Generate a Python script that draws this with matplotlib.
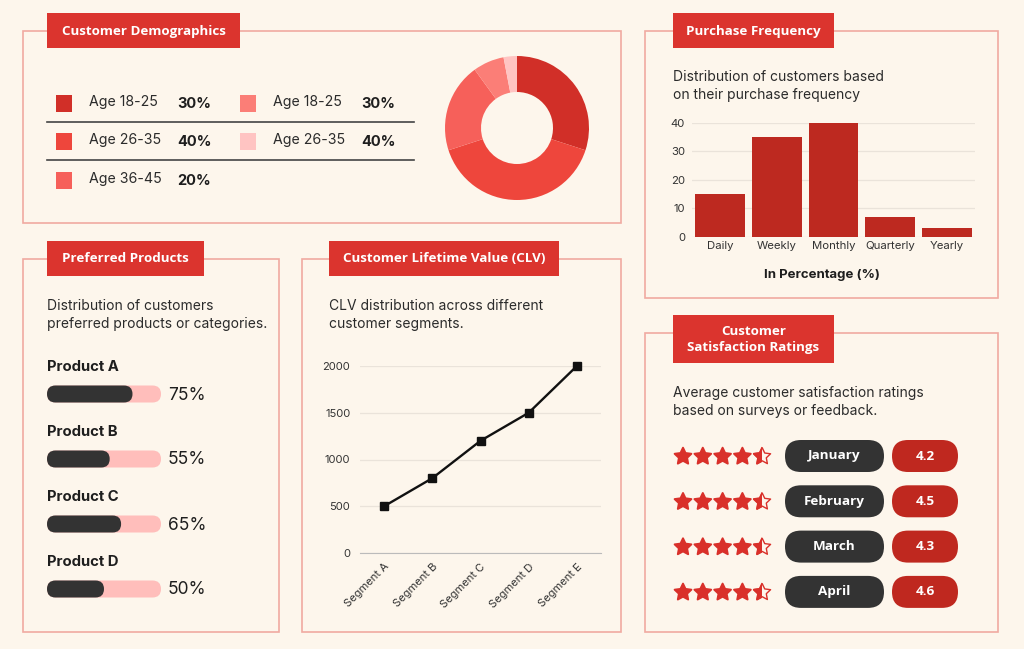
import numpy as np
import matplotlib
matplotlib.use('Agg')
import matplotlib.pyplot as plt
from matplotlib.patches import Rectangle, FancyBboxPatch, Polygon

# ---------------- data ----------------
age_labels = ['Age 18-25', 'Age 26-35', 'Age 36-45', 'Age 18-25', 'Age 26-35']
age_legend_pct = [30, 40, 20, 30, 40]
donut_values = [30, 40, 20, 7, 3]

freq_labels = ['Daily', 'Weekly', 'Monthly', 'Quarterly', 'Yearly']
freq_values = [15, 35, 40, 7, 3]
freq_ticks = [0, 10, 20, 30, 40]

products = ['Product A', 'Product B', 'Product C', 'Product D']
product_pct = [75, 55, 65, 50]

segments = ['Segment A', 'Segment B', 'Segment C', 'Segment D', 'Segment E']
clv_values = [500, 800, 1200, 1500, 2000]
clv_ticks = [0, 500, 1000, 1500, 2000]

months = ['January', 'February', 'March', 'April']
ratings = [4.2, 4.5, 4.3, 4.6]

# ---------------- style ----------------
BG = '#FDF6EC'
BORDER = '#F0AAA1'
HEAD = '#DB342E'
DARK = '#2B2B2B'
BARRED = '#BD2920'
PILLDARK = '#333333'
PILLRED = '#BF281F'
STAR = '#D9302A'
PINK = '#FFBEBB'
GRID = '#EAE3DA'
age_colors = ['#D12F28', '#EE463C', '#F6605A', '#FB7E77', '#FFC4C2']
HFONT = ['Open Sans', 'DejaVu Sans']
BFONT = ['Inter', 'DejaVu Sans']
SUB = 10.0

W, H = 1024, 649
fig = plt.figure(figsize=(W / 100, H / 100), dpi=100)
fig.patch.set_facecolor(BG)
bg = fig.add_axes([0, 0, 1, 1])
bg.set_xlim(0, W)
bg.set_ylim(H, 0)
bg.axis('off')


def px_axes(x0, y0, x1, y1):
    ax = fig.add_axes([x0 / W, 1 - y1 / H, (x1 - x0) / W, (y1 - y0) / H])
    ax.set_facecolor('none')
    return ax


def panel(box, head, title):
    x0, y0, x1, y1 = box
    bg.add_patch(Rectangle((x0, y0), x1 - x0, y1 - y0, fill=False, ec=BORDER, lw=1.2, zorder=1))
    hx0, hy0, hx1, hy1 = head
    bg.add_patch(Rectangle((hx0, hy0), hx1 - hx0, hy1 - hy0, fc=HEAD, ec='none', zorder=3))
    bg.text((hx0 + hx1) / 2, (hy0 + hy1) / 2 + 0.5, title, ha='center', va='center', color='white',
            fontsize=9.6, fontweight='bold', family=HFONT, zorder=4, linespacing=1.25)


def pill(x, yc, w, h, color, z=3):
    bg.add_patch(FancyBboxPatch((x, yc - h / 2), w, h,
                                boxstyle=f"round,pad=0,rounding_size={h / 2}",
                                fc=color, ec='none', zorder=z))


def star_pts(cx, cy, R, r):
    pts = []
    for k in range(10):
        a = -np.pi / 2 + k * np.pi / 5
        rad = R if k % 2 == 0 else r
        pts.append((cx + rad * np.cos(a), cy + rad * np.sin(a)))
    return pts


# ---------------- panels ----------------
panel((23, 31, 621, 223), (47, 13, 240, 48), 'Customer Demographics')
panel((645, 31, 998, 298), (673, 13, 834, 48), 'Purchase Frequency')
panel((23, 259, 279, 632), (47, 241, 204, 276), 'Preferred Products')
panel((302, 259, 621, 632), (329, 241, 559, 276), 'Customer Lifetime Value (CLV)')
panel((645, 333, 998, 632), (673, 315, 834, 363), 'Customer\nSatisfaction Ratings')

# ---------------- demographics ----------------
row_y = [103, 141, 180]
col_x = [56, 240]
for i, (lab, pct) in enumerate(zip(age_labels, age_legend_pct)):
    col = 0 if i < 3 else 1
    row = i if i < 3 else i - 3
    x = col_x[col]
    y = row_y[row]
    bg.add_patch(Rectangle((x, y - 8), 16, 17, fc=age_colors[i], ec='none', zorder=2))
    bg.text(x + 33, y - 1, lab, ha='left', va='center', fontsize=10.2, color=DARK, family=BFONT)
    bg.text(x + 121, y + 1, f'{pct}%', ha='left', va='center', fontsize=10.5,
            fontweight='bold', color='#1E1E1E', family=BFONT)
for ly in [122, 160]:
    bg.plot([47, 414], [ly, ly], color='#444444', lw=1.2)

ax_d = px_axes(445, 56, 589, 200)
ax_d.pie(donut_values, colors=age_colors, startangle=90, counterclock=False,
         wedgeprops=dict(width=0.5, edgecolor='none'))
ax_d.set_xlim(-1, 1)
ax_d.set_ylim(-1, 1)
ax_d.set_aspect('equal')
ax_d.axis('off')

# ---------------- purchase frequency ----------------
bg.text(673, 77, 'Distribution of customers based', ha='left', va='center', fontsize=SUB,
        color=DARK, family=BFONT)
bg.text(673, 95, 'on their purchase frequency', ha='left', va='center', fontsize=SUB,
        color=DARK, family=BFONT)
ax_b = px_axes(692, 123, 975, 237)
ax_b.bar(range(len(freq_values)), freq_values, width=0.88, color=BARRED, zorder=3)
ax_b.set_xlim(-0.5, len(freq_values) - 0.5)
ax_b.set_ylim(0, 40)
ax_b.set_yticks(freq_ticks)
ax_b.set_xticks(range(len(freq_labels)))
ax_b.set_xticklabels(freq_labels)
ax_b.grid(axis='y', color=GRID, lw=0.9, zorder=0)
for s in ax_b.spines.values():
    s.set_visible(False)
ax_b.tick_params(length=0, labelsize=8.2, colors='#333333')
ax_b.tick_params(axis='y', pad=5)
ax_b.tick_params(axis='x', pad=3)
for t in ax_b.get_xticklabels() + ax_b.get_yticklabels():
    t.set_family(BFONT)
bg.text(822, 275, 'In Percentage (%)', ha='center', va='center', fontsize=9.5,
        fontweight='bold', color='#1E1E1E', family=BFONT)

# ---------------- preferred products ----------------
bg.text(47, 306, 'Distribution of customers', ha='left', va='center', fontsize=SUB,
        color=DARK, family=BFONT)
bg.text(47, 324, 'preferred products or categories.', ha='left', va='center', fontsize=SUB,
        color=DARK, family=BFONT)
bar_x0, bar_w, bar_h = 47, 114, 17
for i, (p, v) in enumerate(zip(products, product_pct)):
    ly = 367 + 65 * i
    by = ly + 27
    bg.text(47, ly, p, ha='left', va='center', fontsize=10.7, fontweight='bold',
            color='#1E1E1E', family=BFONT)
    pill(bar_x0, by, bar_w, bar_h, PINK, z=2)
    pill(bar_x0, by, bar_w * v / 100, bar_h, PILLDARK, z=3)
    bg.text(168, by + 1, f'{v}%', ha='left', va='center', fontsize=12.5, color='#1E1E1E',
            family=BFONT)

# ---------------- CLV ----------------
bg.text(329, 306, 'CLV distribution across different', ha='left', va='center', fontsize=SUB,
        color=DARK, family=BFONT)
bg.text(329, 324, 'customer segments.', ha='left', va='center', fontsize=SUB,
        color=DARK, family=BFONT)
ax_l = px_axes(360, 366, 601, 553)
ax_l.plot(range(len(clv_values)), clv_values, color='#111111', lw=1.7, marker='s', ms=6,
          clip_on=False, zorder=3)
ax_l.set_xlim(-0.5, len(clv_values) - 0.5)
ax_l.set_ylim(0, 2000)
ax_l.set_yticks(clv_ticks)
ax_l.set_xticks(range(len(segments)))
ax_l.set_xticklabels(segments, rotation=45, ha='right', va='top', rotation_mode='anchor')
ax_l.grid(axis='y', color=GRID, lw=0.9, zorder=0)
for k, s in ax_l.spines.items():
    s.set_visible(k == 'bottom')
ax_l.spines['bottom'].set_color('#BBBBBB')
ax_l.tick_params(length=0, labelsize=8, colors='#333333')
ax_l.tick_params(axis='y', pad=7)
ax_l.tick_params(axis='x', pad=6)
for t in ax_l.get_xticklabels() + ax_l.get_yticklabels():
    t.set_family(BFONT)

# ---------------- satisfaction ----------------
bg.text(673, 393, 'Average customer satisfaction ratings', ha='left', va='center', fontsize=SUB,
        color=DARK, family=BFONT)
bg.text(673, 411, 'based on surveys or feedback.', ha='left', va='center', fontsize=SUB,
        color=DARK, family=BFONT)
for i, (m, r) in enumerate(zip(months, ratings)):
    yc = 456 + 45.3 * i
    n_full = int(np.floor(r))
    for k in range(5):
        cx = 683 + 19.8 * k
        cy = yc + 0.5
        pts = star_pts(cx, cy, 8.8, 4.3)
        if k < n_full:
            bg.add_patch(Polygon(pts, closed=True, fc=STAR, ec=STAR, lw=1.4,
                                 joinstyle='round', zorder=3))
        else:
            bg.add_patch(Polygon(pts, closed=True, fc=BG, ec=STAR, lw=1.0,
                                 joinstyle='round', zorder=3))
            half = Polygon(pts, closed=True, fc=STAR, ec=STAR, lw=1.4, joinstyle='round', zorder=4)
            bg.add_patch(half)
            clip = Rectangle((cx - 12, cy - 12), 12, 24, transform=bg.transData)
            half.set_clip_path(clip)
    pill(785, yc, 99, 32, PILLDARK)
    bg.text(834.5, yc, m, ha='center', va='center', color='white', fontsize=9.7,
            fontweight='bold', family=HFONT, zorder=4)
    pill(892, yc, 66, 32, PILLRED)
    bg.text(925, yc, f'{r}', ha='center', va='center', color='white', fontsize=9.7,
            fontweight='bold', family=HFONT, zorder=4)

fig.savefig('out.png', dpi=100, facecolor=BG)
